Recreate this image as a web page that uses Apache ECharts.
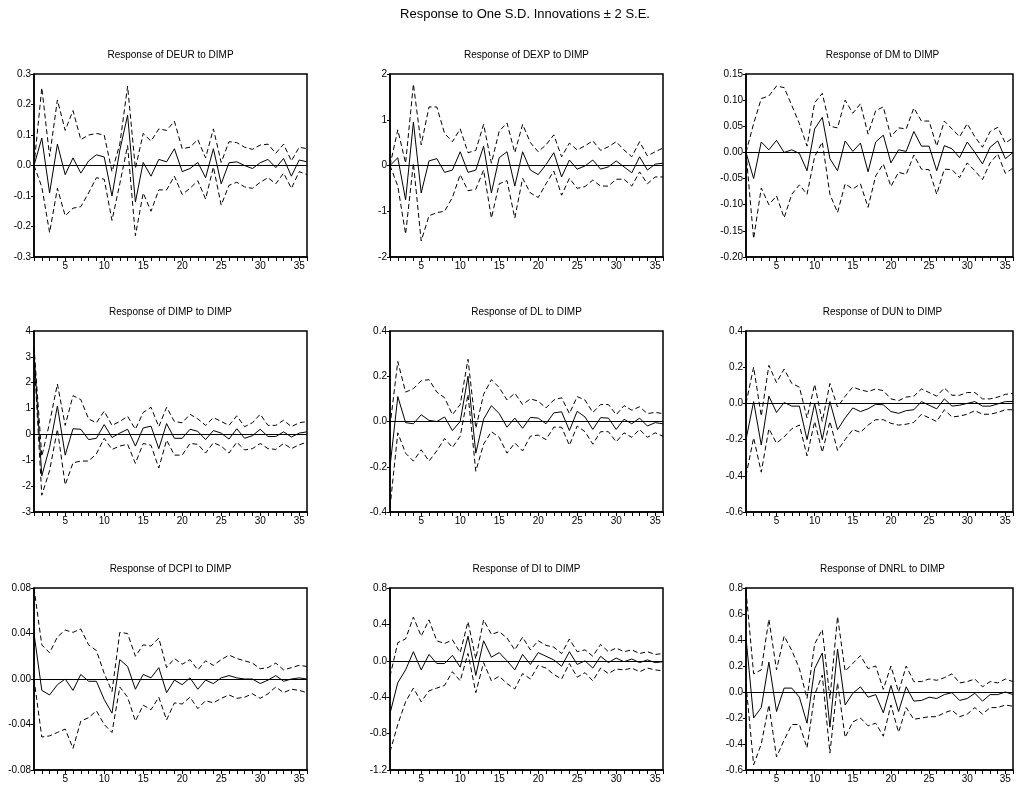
<!DOCTYPE html>
<html>
<head>
<meta charset="utf-8">
<script src="https://cdn.jsdelivr.net/npm/echarts@6/dist/echarts.min.js"></script>
<style>
  html, body { margin: 0; padding: 0; background: #fff; }
  #main { width: 1016px; height: 787px; }
</style>
</head>
<body>
<div id="main"></div>
<script>
var periods = [1,2,3,4,5,6,7,8,9,10,11,12,13,14,15,16,17,18,19,20,21,22,23,24,25,26,27,28,29,30,31,32,33,34,35,36];

var deurResp  = [0,0.09,-0.09,0.07,-0.03,0.025,-0.025,0.015,0.035,0.028,-0.10,0.05,0.165,-0.12,0.01,-0.035,0.02,0.012,0.055,-0.02,-0.01,0.01,-0.04,0.055,-0.06,0.009,0.012,0,-0.01,0.009,0.02,-0.007,0.023,-0.035,0.018,0.012];
var deurUpper = [0,0.255,0.03,0.215,0.115,0.18,0.085,0.10,0.105,0.10,-0.02,0.07,0.26,-0.01,0.105,0.08,0.12,0.115,0.145,0.055,0.06,0.085,0.025,0.12,0.01,0.078,0.075,0.06,0.053,0.067,0.07,0.04,0.07,0.015,0.06,0.055];
var deurLower = [0,-0.07,-0.22,-0.075,-0.165,-0.14,-0.135,-0.09,-0.04,-0.045,-0.18,-0.06,0.065,-0.23,-0.09,-0.15,-0.08,-0.08,-0.035,-0.095,-0.075,-0.05,-0.11,-0.005,-0.13,-0.065,-0.055,-0.07,-0.075,-0.055,-0.04,-0.06,-0.025,-0.075,-0.02,-0.03];

var dexpResp  = [0,0.17,-0.75,0.95,-0.6,0.1,0.15,-0.15,-0.1,0.3,-0.15,-0.1,0.42,-0.6,0.17,0.3,-0.45,0.3,-0.1,-0.2,0.02,0.28,-0.25,0.12,-0.08,-0.01,0.12,-0.08,-0.03,0.1,-0.03,-0.16,0.19,-0.1,0.03,0.05];
var dexpUpper = [0,0.78,0.05,1.78,0.45,1.28,1.28,0.7,0.52,0.8,0.28,0.33,0.9,0.05,0.75,0.93,0.28,0.9,0.5,0.3,0.45,0.67,0.19,0.49,0.34,0.43,0.54,0.33,0.41,0.52,0.34,0.19,0.52,0.21,0.3,0.38];
var dexpLower = [0,-0.45,-1.5,0.05,-1.65,-1.1,-1.03,-1.0,-0.7,-0.2,-0.55,-0.52,-0.1,-1.15,-0.4,-0.33,-1.15,-0.28,-0.6,-0.7,-0.4,-0.12,-0.65,-0.28,-0.5,-0.46,-0.32,-0.45,-0.45,-0.3,-0.3,-0.45,-0.14,-0.4,-0.25,-0.25];

var dmResp  = [0,-0.05,0.02,0.005,0.023,0,0.005,-0.002,-0.035,0.045,0.067,-0.012,-0.035,0.022,0.002,0.018,-0.037,0.02,0.033,-0.02,0.005,0.002,0.04,0.012,0.012,-0.035,0.013,0.007,-0.01,0.02,0,-0.022,0.01,0.022,-0.012,0];
var dmUpper = [0,0.055,0.103,0.108,0.127,0.124,0.09,0.055,0.012,0.095,0.113,0.05,0.047,0.1,0.075,0.093,0.035,0.08,0.087,0.03,0.047,0.045,0.085,0.06,0.06,0.012,0.06,0.045,0.03,0.055,0.03,0.01,0.04,0.048,0.018,0.028];
var dmLower = [0,-0.165,-0.068,-0.1,-0.083,-0.125,-0.08,-0.062,-0.08,-0.008,0.02,-0.08,-0.115,-0.06,-0.07,-0.06,-0.105,-0.045,-0.022,-0.065,-0.038,-0.042,-0.005,-0.032,-0.033,-0.08,-0.032,-0.033,-0.048,-0.02,-0.035,-0.052,-0.02,-0.003,-0.04,-0.03];

var dimpResp  = [3.2,-1.6,-0.5,1.1,-0.8,0.22,0.2,-0.2,-0.15,0.38,-0.12,0.05,0.2,-0.45,0.25,0.32,-0.55,0.42,-0.15,-0.15,0.2,0.12,-0.2,0.15,0.05,-0.18,0.22,-0.15,-0.05,0.2,-0.08,-0.08,0.1,-0.1,0.05,0.1];
var dimpUpper = [3.4,-0.85,0.45,1.95,0.35,1.5,1.35,0.6,0.45,0.9,0.35,0.5,0.7,0.2,0.85,1.05,0.3,1.05,0.5,0.45,0.78,0.6,0.35,0.65,0.5,0.35,0.72,0.3,0.45,0.78,0.35,0.35,0.55,0.3,0.45,0.5];
var dimpLower = [3.0,-2.35,-1.4,0.2,-1.95,-1.1,-1.03,-1.03,-0.75,-0.15,-0.58,-0.45,-0.38,-1.12,-0.35,-0.42,-1.3,-0.22,-0.8,-0.8,-0.35,-0.38,-0.72,-0.32,-0.45,-0.72,-0.3,-0.6,-0.55,-0.35,-0.55,-0.58,-0.35,-0.55,-0.4,-0.3];

var dlResp  = [-0.2,0.11,-0.005,-0.01,0.03,0.005,0,0.02,-0.04,0,0.2,-0.14,0.01,0.07,0.035,-0.025,0.015,-0.03,0.018,0.015,-0.01,0.038,0.043,-0.04,0.045,0.02,-0.035,0.017,0.015,-0.035,0.01,-0.01,0.015,-0.02,-0.005,-0.01];
var dlUpper = [-0.02,0.265,0.13,0.145,0.18,0.185,0.13,0.105,0.03,0.075,0.275,-0.03,0.12,0.185,0.15,0.095,0.125,0.075,0.1,0.09,0.06,0.095,0.105,0.035,0.11,0.095,0.04,0.075,0.075,0.03,0.07,0.05,0.065,0.035,0.04,0.035];
var dlLower = [-0.38,-0.05,-0.14,-0.175,-0.125,-0.175,-0.13,-0.075,-0.115,-0.065,0.12,-0.22,-0.1,-0.045,-0.07,-0.14,-0.095,-0.13,-0.065,-0.06,-0.08,-0.025,-0.025,-0.105,-0.02,-0.045,-0.1,-0.045,-0.045,-0.09,-0.05,-0.07,-0.035,-0.07,-0.05,-0.065];

var dunResp  = [-0.2,0.01,-0.23,0.04,-0.05,0.005,-0.015,-0.015,-0.2,0,-0.2,0.01,-0.145,-0.08,-0.025,-0.045,-0.03,-0.005,-0.008,-0.045,-0.055,-0.04,-0.035,0.01,-0.01,-0.03,0.025,-0.015,-0.01,0,0.01,-0.015,-0.015,-0.003,0.01,0.01];
var dunUpper = [0,0.2,-0.07,0.21,0.115,0.19,0.11,0.09,-0.08,0.105,-0.1,0.11,-0.02,0.04,0.09,0.075,0.065,0.08,0.07,0.025,0.015,0.035,0.04,0.08,0.06,0.04,0.085,0.045,0.045,0.06,0.06,0.025,0.025,0.035,0.05,0.055];
var dunLower = [-0.4,-0.19,-0.38,-0.14,-0.22,-0.185,-0.14,-0.12,-0.29,-0.1,-0.27,-0.1,-0.26,-0.2,-0.145,-0.16,-0.12,-0.09,-0.09,-0.11,-0.12,-0.115,-0.105,-0.06,-0.08,-0.1,-0.035,-0.075,-0.07,-0.06,-0.04,-0.06,-0.06,-0.05,-0.035,-0.035];

var dcpiResp  = [0.04,-0.01,-0.014,-0.005,0,-0.01,0.004,-0.002,-0.002,-0.018,-0.03,0.017,0.011,-0.009,0.004,0.001,0.01,-0.012,-0.001,-0.005,0.001,-0.009,-0.001,-0.004,0.001,0.003,0.001,0,0,-0.004,-0.001,0.003,-0.002,0,0.001,0];
var dcpiUpper = [0.08,0.03,0.023,0.037,0.043,0.041,0.044,0.03,0.025,0.005,-0.011,0.041,0.04,0.02,0.03,0.029,0.036,0.01,0.018,0.013,0.017,0.008,0.016,0.012,0.017,0.021,0.018,0.016,0.014,0.009,0.01,0.014,0.008,0.01,0.012,0.011];
var dcpiLower = [0,-0.051,-0.05,-0.047,-0.044,-0.061,-0.037,-0.034,-0.028,-0.04,-0.047,-0.007,-0.016,-0.037,-0.023,-0.027,-0.016,-0.036,-0.021,-0.022,-0.016,-0.026,-0.019,-0.021,-0.017,-0.014,-0.017,-0.016,-0.013,-0.017,-0.013,-0.007,-0.012,-0.009,-0.01,-0.012];

var diResp  = [-0.58,-0.24,-0.1,0.1,-0.1,0.07,-0.03,-0.03,0.06,-0.07,0.27,-0.16,0.22,0.04,0.09,0,-0.1,0.07,-0.04,0.09,0.05,0.01,-0.06,0.1,-0.04,0,-0.08,0.05,-0.02,0.03,-0.01,0.02,-0.02,0.01,-0.02,-0.01];
var diUpper = [-0.17,0.2,0.24,0.48,0.27,0.45,0.22,0.19,0.23,0.09,0.43,0.02,0.45,0.29,0.32,0.25,0.12,0.26,0.12,0.22,0.17,0.15,0.08,0.24,0.1,0.12,0.05,0.18,0.1,0.14,0.1,0.12,0.08,0.1,0.07,0.08];
var diLower = [-1.0,-0.7,-0.45,-0.3,-0.45,-0.33,-0.3,-0.27,-0.12,-0.22,0.08,-0.35,-0.02,-0.22,-0.17,-0.25,-0.31,-0.14,-0.2,-0.05,-0.08,-0.15,-0.2,-0.03,-0.18,-0.13,-0.22,-0.08,-0.14,-0.09,-0.1,-0.08,-0.12,-0.08,-0.1,-0.11];

var dnrlResp  = [0.42,-0.2,-0.12,0.23,-0.15,0.03,0.03,-0.04,-0.24,0.18,0.3,-0.27,0.33,-0.1,-0.01,0.04,-0.04,-0.02,-0.16,0.05,-0.15,0.04,-0.07,-0.065,-0.04,-0.05,-0.02,-0.005,-0.065,-0.05,-0.01,-0.07,-0.02,-0.02,0,-0.02];
var dnrlUpper = [0.78,0.14,0.17,0.56,0.17,0.43,0.32,0.18,-0.05,0.37,0.48,-0.05,0.58,0.16,0.22,0.28,0.18,0.2,0.02,0.2,0,0.2,0.08,0.08,0.1,0.09,0.11,0.14,0.07,0.08,0.1,0.04,0.08,0.07,0.1,0.08];
var dnrlLower = [0.06,-0.56,-0.4,-0.1,-0.5,-0.37,-0.25,-0.25,-0.43,-0.02,0.13,-0.47,0.07,-0.35,-0.23,-0.2,-0.26,-0.24,-0.34,-0.1,-0.31,-0.12,-0.21,-0.2,-0.19,-0.19,-0.16,-0.14,-0.19,-0.17,-0.12,-0.17,-0.12,-0.12,-0.1,-0.11];

var panelTitles = [
  'Response of DEUR to DIMP', 'Response of DEXP to DIMP', 'Response of DM to DIMP',
  'Response of DIMP to DIMP', 'Response of DL to DIMP', 'Response of DUN to DIMP',
  'Response of DCPI to DIMP', 'Response of DI to DIMP', 'Response of DNRL to DIMP'
];

// y-axis ranges: [min, max, step, decimals]
var yRanges = [
  [-0.3, 0.3, 0.1, 1], [-2, 2, 1, 0], [-0.2, 0.15, 0.05, 2],
  [-3, 4, 1, 0], [-0.4, 0.4, 0.2, 1], [-0.6, 0.4, 0.2, 1],
  [-0.08, 0.08, 0.04, 2], [-1.2, 0.8, 0.4, 1], [-0.6, 0.8, 0.2, 1]
];

var panels = [
  [deurResp, deurUpper, deurLower], [dexpResp, dexpUpper, dexpLower], [dmResp, dmUpper, dmLower],
  [dimpResp, dimpUpper, dimpLower], [dlResp, dlUpper, dlLower], [dunResp, dunUpper, dunLower],
  [dcpiResp, dcpiUpper, dcpiLower], [diResp, diUpper, diLower], [dnrlResp, dnrlUpper, dnrlLower]
];

var colLeft = [34, 390, 746];
var rowTop = [74, 331, 588];
var rowHeight = [183, 181, 182];
var plotWidth = 273;
var font = '"Liberation Sans", Arial, sans-serif';

function pairs(arr) {
  return periods.map(function (p, j) { return [p, arr[j]]; });
}

var grids = [], xAxes = [], yAxes = [], series = [], graphics = [];

panels.forEach(function (pn, i) {
  var col = i % 3, row = Math.floor(i / 3);
  var yr = yRanges[i];
  grids.push({
    left: colLeft[col], top: rowTop[row], width: plotWidth, height: rowHeight[row],
    show: true, borderColor: '#000', borderWidth: 1.5
  });
  xAxes.push({
    type: 'value', gridIndex: i, min: 1, max: 36, interval: 1,
    axisLine: { show: true, onZero: false, lineStyle: { color: '#000', width: 1.5 } },
    axisTick: { show: true, length: 4, lineStyle: { color: '#000' } },
    axisLabel: {
      margin: 4, fontSize: 10, color: '#000', fontFamily: font,
      formatter: function (v) { return v % 5 === 0 ? String(v) : ''; }
    },
    splitLine: { show: false }
  });
  yAxes.push({
    type: 'value', gridIndex: i, min: yr[0], max: yr[1], interval: yr[2],
    axisLine: { show: true, onZero: false, lineStyle: { color: '#000', width: 1.5 } },
    axisTick: { show: true, length: 3, lineStyle: { color: '#000' } },
    axisLabel: {
      margin: 3, fontSize: 10, color: '#000', fontFamily: font,
      formatter: function (v) { return v.toFixed(yr[3]); }
    },
    splitLine: { show: false }
  });
  series.push({
    type: 'line', xAxisIndex: i, yAxisIndex: i, data: pairs(pn[0]),
    symbol: 'none', lineStyle: { color: '#000', width: 1 },
    markLine: {
      silent: true, symbol: ['none', 'none'], label: { show: false },
      lineStyle: { color: '#000', width: 1, type: 'solid' },
      data: [{ yAxis: 0 }]
    }
  });
  series.push({
    type: 'line', xAxisIndex: i, yAxisIndex: i, data: pairs(pn[1]),
    symbol: 'none', lineStyle: { color: '#000', width: 1, type: [5, 3] }
  });
  series.push({
    type: 'line', xAxisIndex: i, yAxisIndex: i, data: pairs(pn[2]),
    symbol: 'none', lineStyle: { color: '#000', width: 1, type: [5, 3] }
  });
  graphics.push({
    type: 'text', x: colLeft[col] + plotWidth / 2, y: rowTop[row] - 19,
    style: {
      text: panelTitles[i], align: 'center', verticalAlign: 'middle',
      fontSize: 10, fontFamily: font, fill: '#000'
    }
  });
});

graphics.push({
  type: 'text', x: 525, y: 14,
  style: {
    text: 'Response to One S.D. Innovations \u00b1 2 S.E.', align: 'center', verticalAlign: 'middle',
    fontSize: 13, fontFamily: font, fill: '#000'
  }
});

var myChart = echarts.init(document.getElementById('main'));
myChart.setOption({
  backgroundColor: '#fff',
  animation: false,
  grid: grids,
  xAxis: xAxes,
  yAxis: yAxes,
  series: series,
  graphic: graphics
});
</script>
</body>
</html>
